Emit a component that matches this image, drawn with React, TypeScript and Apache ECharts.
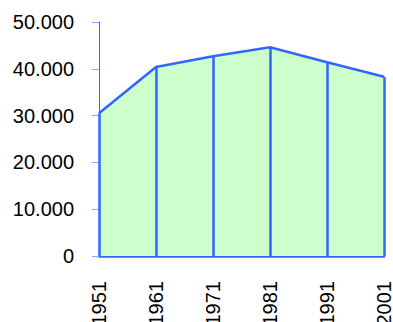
import React, { useEffect, useRef } from "react";
import * as echarts from "echarts";

const years = ["1951", "1961", "1971", "1981", "1991", "2001"];
const population = [30500, 40400, 42700, 44600, 41400, 38300];
const yTicks = { min: 0, max: 50000, interval: 10000 };

function fmt(v: number): string {
  return String(Math.round(v)).replace(/\B(?=(\d{3})+(?!\d))/g, ".");
}

export default function App() {
  const ref = useRef<HTMLDivElement>(null);
  useEffect(() => {
    if (!ref.current) return;
    const chart = echarts.init(ref.current, undefined, { renderer: "svg" });
    const blue = "#3366ff";
    chart.setOption({
      animation: false,
      grid: {
        left: 99,
        right: 9,
        top: 22,
        bottom: 66,
        containLabel: false,
        outerBoundsMode: "none",
      },
      xAxis: {
        type: "category",
        data: years,
        boundaryGap: false,
        axisLine: { show: true, lineStyle: { color: blue, width: 2.5 } },
        axisTick: { show: false },
        axisLabel: {
          rotate: 90,
          margin: 25,
          color: "#000",
          fontSize: 20,
          fontFamily: "Liberation Sans, Arial, sans-serif",
        },
        splitLine: { show: false },
      },
      yAxis: {
        type: "value",
        min: yTicks.min,
        max: yTicks.max,
        interval: yTicks.interval,
        axisLine: { show: true, lineStyle: { color: blue, width: 1 } },
        axisTick: { show: true, length: 7, lineStyle: { color: "#8fa8ff", width: 1 } },
        axisLabel: {
          margin: 25,
          color: "#000",
          fontSize: 20,
          fontFamily: "Liberation Sans, Arial, sans-serif",
          formatter: (v: number) => fmt(v),
        },
        splitLine: { show: false },
      },
      series: [
        {
          type: "line",
          data: population,
          symbol: "none",
          lineStyle: { color: blue, width: 2.5 },
          areaStyle: { color: "#ccffcc", opacity: 1 },
          markLine: {
            silent: true,
            symbol: "none",
            label: { show: false },
            lineStyle: { color: blue, width: 2.5, type: "solid" },
            data: population.map((v, i) => [
              { coord: [i, 0] },
              { coord: [i, v] },
            ]),
          },
        },
      ],
    });
    return () => chart.dispose();
  }, []);
  return <div ref={ref} style={{ width: 393, height: 322, position: "absolute", left: 0, top: 0 }} />;
}
